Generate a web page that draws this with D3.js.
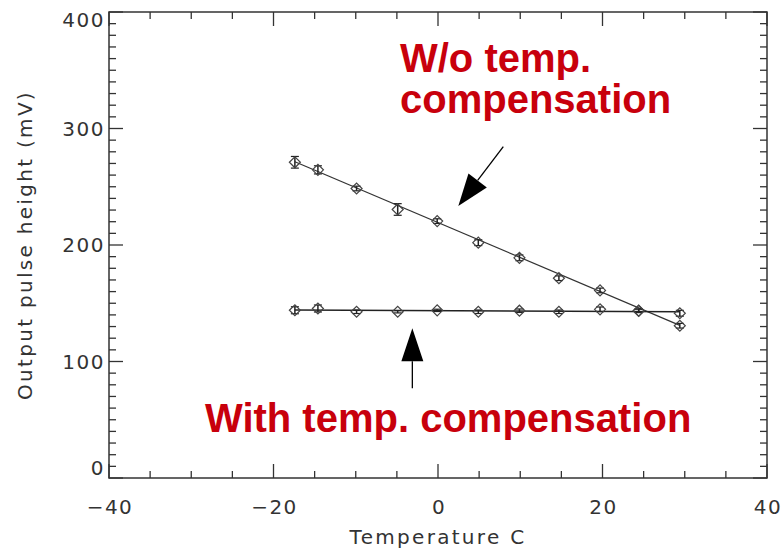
<!DOCTYPE html>
<html>
<head>
<meta charset="utf-8">
<script src="https://cdn.jsdelivr.net/npm/d3@7"></script>
<style>
  html, body { margin: 0; padding: 0; background: #fff; }
  svg { display: block; }
  .tick-label { font-family: "DejaVu Sans", sans-serif; font-size: 20px; fill: #333; letter-spacing: 1.5px; }
  .axis-title { font-family: "DejaVu Sans", sans-serif; font-size: 20px; fill: #333; letter-spacing: 2.3px; }
  .anno { font-family: "Liberation Sans", Arial, sans-serif; font-weight: bold; font-size: 40px; fill: #c8000c; }
</style>
</head>
<body>
<svg id="chart" width="782" height="548"></svg>
<script>
// ---- data ----
const temperature = [-17.4, -14.6, -9.9, -4.9, -0.1, 4.9, 9.9, 14.7, 19.7, 24.4, 29.4];
const withoutComp = [271, 264.5, 248.5, 230.5, 220.5, 202, 189, 171.5, 161, 143.5, 130.7];
const withoutErr  = [5, 3.5, 2, 5, 2, 2.5, 2.5, 2, 2, 1.5, 2];
const withComp    = [144, 145.5, 142.7, 142.7, 143.9, 142.7, 143.6, 142.7, 144.8, 143.6, 141.4];
const withErr     = [3, 3, 1.5, 1, 1, 1.5, 1.5, 1.5, 2, 1.5, 2.5];
const fitX        = [-17.4, 29.4];
const fitWithout  = [271.5, 131];
const fitWith     = [144.3, 142.6];
const xTicks = [-40, -20, 0, 20, 40];
const yTicks = [0, 100, 200, 300, 400];
const xTitle = "Temperature C";
const yTitle = "Output pulse height (mV)";
const labelWithout = ["W/o temp.", "compensation"];
const labelWith = "With temp. compensation";

// ---- layout ----
const svg = d3.select("#chart");
const L = 109, R = 767, T = 12, B = 478;
const x = d3.scaleLinear().domain([-40, 40]).range([L, R]);
const y = d3.scaleLinear().domain([0, 400]).range([B, T]);
const axisColor = "#333";

// frame
svg.append("rect").attr("x", L).attr("y", T).attr("width", R - L).attr("height", B - T)
  .attr("fill", "none").attr("stroke", axisColor).attr("stroke-width", 1.5);

// ticks (all four sides)
const xMinor = d3.range(-40, 40.01, 5);
const yMinor = d3.range(0, 400.01, 10);
const gT = svg.append("g").attr("stroke", axisColor).attr("stroke-width", 1.3);
xMinor.forEach(v => {
  const len = (v % 20 === 0) ? 14 : 7;
  gT.append("line").attr("x1", x(v)).attr("x2", x(v)).attr("y1", B).attr("y2", B - len);
  gT.append("line").attr("x1", x(v)).attr("x2", x(v)).attr("y1", T).attr("y2", T + len);
});
yMinor.forEach(v => {
  const len = (v % 100 === 0) ? 14 : 7;
  gT.append("line").attr("y1", y(v)).attr("y2", y(v)).attr("x1", L).attr("x2", L + len);
  gT.append("line").attr("y1", y(v)).attr("y2", y(v)).attr("x1", R).attr("x2", R - len);
});

// tick labels
svg.append("g").selectAll("text").data(xTicks).join("text")
  .attr("class", "tick-label").attr("x", d => x(d) + 1).attr("y", B + 36)
  .attr("text-anchor", "middle")
  .text(d => d < 0 ? "\u2212" + Math.abs(d) : d);
svg.append("g").selectAll("text").data(yTicks).join("text")
  .attr("class", "tick-label").attr("x", L - 4)
  .attr("y", d => y(d) + 7 + (d === 400 ? 8 : d === 0 ? -10 : 0))
  .attr("text-anchor", "end").text(d => d);

// axis titles
svg.append("text").attr("class", "axis-title").attr("x", (L + R) / 2).attr("y", 544)
  .attr("text-anchor", "middle").text(xTitle);
svg.append("text").attr("class", "axis-title")
  .attr("transform", `translate(32,${(T + B) / 2}) rotate(-90)`)
  .attr("text-anchor", "middle").text(yTitle);

// fit lines
const line = d3.line().x(d => x(d[0])).y(d => y(d[1]));
svg.append("path").attr("d", line(fitX.map((v, i) => [v, fitWithout[i]])))
  .attr("fill", "none").attr("stroke", "#333").attr("stroke-width", 1.2);
svg.append("path").attr("d", line(fitX.map((v, i) => [v, fitWith[i]])))
  .attr("fill", "none").attr("stroke", "#222").attr("stroke-width", 1.5);

// points with error bars
function drawSeries(vals, errs) {
  const g = svg.append("g").attr("stroke", "#222").attr("fill", "none").attr("stroke-width", 1.2);
  temperature.forEach((t, i) => {
    const cx = x(t), cy = y(vals[i]);
    const y1 = y(vals[i] + errs[i]), y2 = y(vals[i] - errs[i]);
    g.append("line").attr("x1", cx).attr("x2", cx).attr("y1", y1).attr("y2", y2).attr("stroke-width", 1.5);
    g.append("line").attr("x1", cx - 4).attr("x2", cx + 4).attr("y1", y1).attr("y2", y1);
    g.append("line").attr("x1", cx - 4).attr("x2", cx + 4).attr("y1", y2).attr("y2", y2);
    const s = 5.5;
    g.append("path").attr("d", `M${cx - s},${cy}L${cx},${cy - s}L${cx + s},${cy}L${cx},${cy + s}Z`)
      .attr("stroke", "#444");
  });
}
drawSeries(withoutComp, withoutErr);
drawSeries(withComp, withErr);

// arrows (data coordinates)
function arrow(x0, y0, x1, y1, headLen, headW) {
  const px0 = x(x0), py0 = y(y0), px1 = x(x1), py1 = y(y1);
  const dx = px1 - px0, dy = py1 - py0, len = Math.hypot(dx, dy);
  const ux = dx / len, uy = dy / len;
  const bx = px1 - ux * headLen, by = py1 - uy * headLen;
  svg.append("line").attr("x1", px0).attr("y1", py0).attr("x2", bx).attr("y2", by)
    .attr("stroke", "#000").attr("stroke-width", 1.3);
  svg.append("path")
    .attr("d", `M${px1},${py1}L${bx - uy * headW / 2},${by + ux * headW / 2}L${bx + uy * headW / 2},${by - ux * headW / 2}Z`)
    .attr("fill", "#000");
}
arrow(7.94, 284.4, 2.47, 233.5, 32, 23);
arrow(-3.12, 77, -3.12, 128.5, 33, 22);

// annotations
svg.append("text").attr("class", "anno").attr("x", x(-4.62)).attr("y", y(348.5)).text(labelWithout[0]);
svg.append("text").attr("class", "anno").attr("x", x(-4.62)).attr("y", y(313.6)).text(labelWithout[1]);
svg.append("text").attr("class", "anno").attr("x", x(-28.33)).attr("y", y(39.7)).text(labelWith);
</script>
</body>
</html>
